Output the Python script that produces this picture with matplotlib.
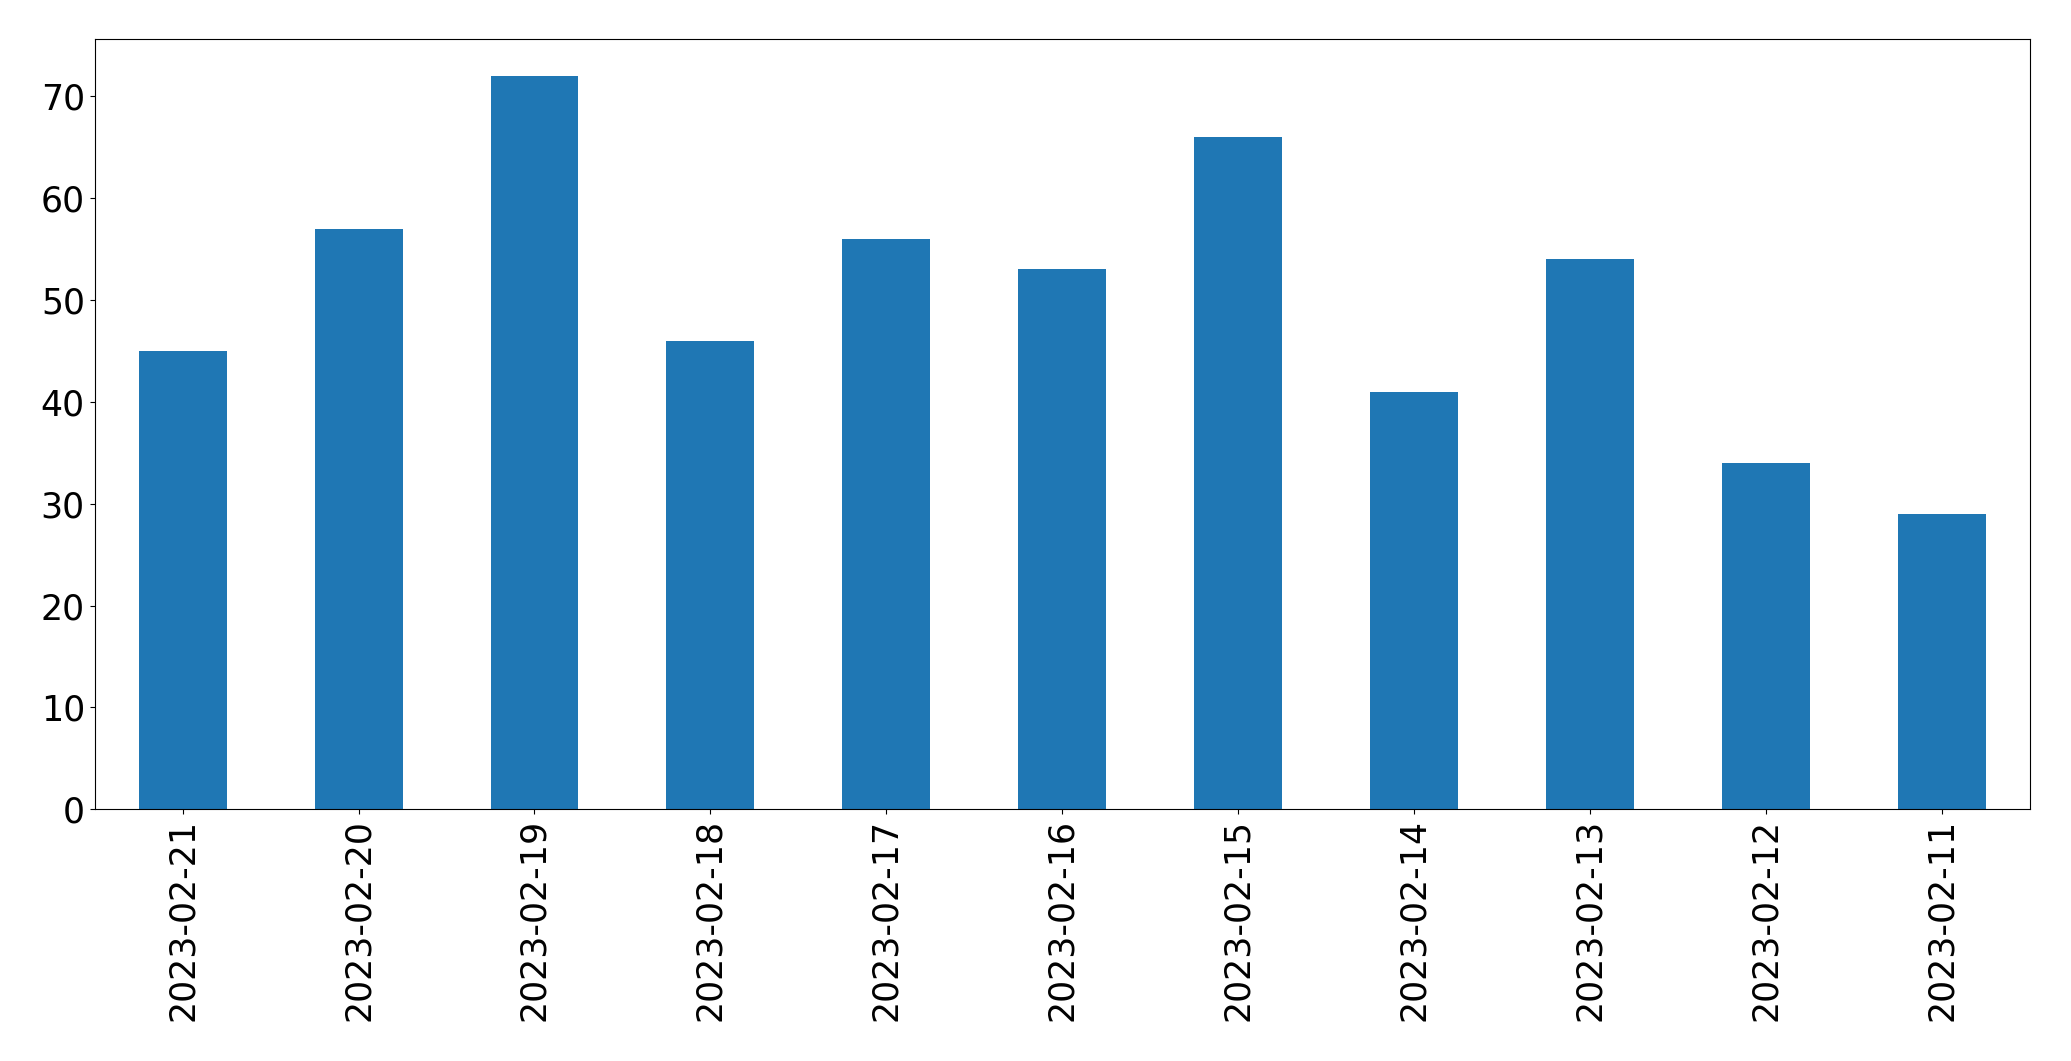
import pandas as pd
import matplotlib.pyplot as plt

dates = ['2023-02-21', '2023-02-20', '2023-02-19', '2023-02-18', '2023-02-17', '2023-02-16',
         '2023-02-15', '2023-02-14', '2023-02-13', '2023-02-12', '2023-02-11']
counts = [45, 57, 72, 46, 56, 53, 66, 41, 54, 34, 29]

s = pd.Series(counts, index=dates)

fig, ax = plt.subplots(figsize=(20.71, 10.61), dpi=100)
s.plot(kind='bar', ax=ax, color='#1f77b4')
ax.tick_params(axis='both', labelsize=25)
plt.subplots_adjust(left=0.0457, right=0.9802, top=0.963, bottom=0.2372)
fig.savefig('out.png', dpi=100)
